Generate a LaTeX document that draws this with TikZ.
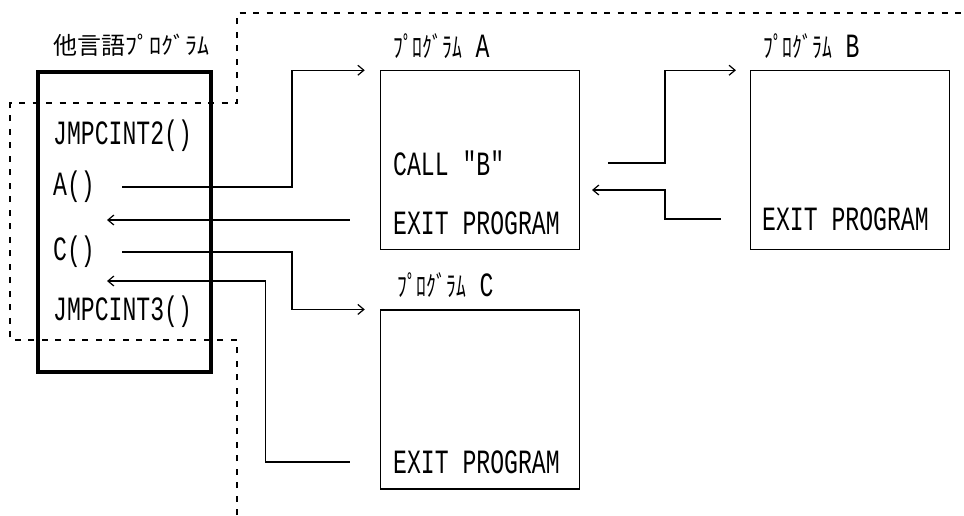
\documentclass[tikz,border=0pt]{standalone}
\usepackage{fontspec}
\setmainfont{Liberation Mono}
\newfontfamily\progfont[FakeStretch=0.68]{Liberation Mono}
\newfontfamily\kanafont[FakeStretch=0.7]{Noto Sans CJK JP}
\newfontfamily\titlefont{Noto Sans CJK JP}
\newcommand\kprog{{\kanafont\fontsize{28}{30}\selectfont ﾌﾟﾛｸﾞﾗﾑ}}
\usetikzlibrary{arrows.meta,positioning}

\begin{document}
\begin{tikzpicture}[x=1pt, y=-1pt,
		txt/.style={inner sep=0pt, anchor=west, font=\progfont\fontsize{34}{36}\selectfont},
		prog/.style={draw, line width=1.2pt, inner sep=0pt, minimum width=199pt, minimum height=179pt},
		arr/.style={-{Straight Barb[length=6pt,width=10pt]}, line width=1.2pt},
		bound/.style={line width=1.5pt, dash pattern=on 6pt off 7.5pt}]
	\useasboundingbox (0,0) rectangle (964,515);
	% boundary of the other language side
	\draw[bound] (237,515) -- (237,340) -- (10,340) -- (10,103) -- (237,103) -- (237,13) -- (964,13);
	% caller
	\node[draw, line width=3.5pt, inner sep=0pt, minimum width=173pt, minimum height=300pt] (lang) at (124.5,222) {};
	\node[font=\titlefont\fontsize{24}{26}\selectfont, inner sep=0pt] (title) at (131,45) {他言語ﾌﾟﾛｸﾞﾗﾑ};
	\node[txt] (jmp2) at (53,136) {JMPCINT2()};
	\node[txt] (ao) at (53,187) {A()};
	\node[txt] (co) at (53,252) {C()};
	\node[txt] (jmp3) at (53,312) {JMPCINT3()};
	% programs
	\node[prog, right=167pt of lang.north east, anchor=north west] (pa) {};
	\node[prog, right=170pt of pa] (pb) {};
	\node[prog, below=59pt of pa] (pc) {};
	\node[txt] (la) at (393,46) {\kprog\ A};
	\node[txt] (lb) at (763,46) {\kprog\ B};
	\node[txt] (lc) at (397,285) {\kprog\ C};
	\node[txt] (call) at (393,163) {CALL "B"};
	\node[txt] (exa) at (393,223) {EXIT PROGRAM};
	\node[txt] (exb) at (762,219) {EXIT PROGRAM};
	\node[txt] (exc) at (393,462) {EXIT PROGRAM};
	\coordinate (reta) at (107,220);
	\coordinate (retc) at (107,281);
	\coordinate (retb) at (592,190);
	% calls and returns
	\draw[arr] ([xshift=27pt]ao.east) -- ++(170,0) |- ([xshift=-15pt]pa.north west);
	\draw[arr] ([xshift=-30pt]pa.west |- reta) -- (reta);
	\draw[arr] ([xshift=27pt]co.east) -- ++(170,0) |- ([xshift=-15pt]pc.north west);
	\draw[arr] ([xshift=-30pt]pc.west |- exc.west) -- ++(-84,0) |- (retc);
	\draw[arr] ([xshift=28pt]pa.east |- call.west) -- ++(57,0) |- ([xshift=-14pt]pb.north west);
	\draw[arr] ([xshift=-29pt]pb.west |- exb.west) -- ++(-56,0) |- (retb);
\end{tikzpicture}
\end{document}
